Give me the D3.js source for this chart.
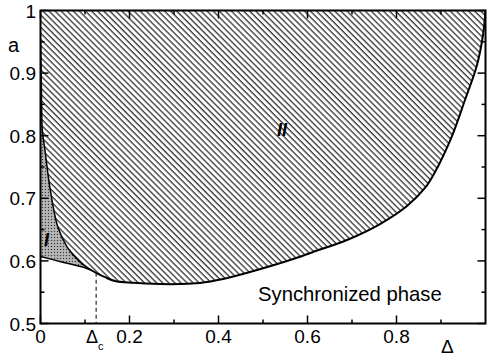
<!DOCTYPE html>
<html>
<head>
<meta charset="utf-8">
<script src="https://cdn.jsdelivr.net/npm/d3@7"></script>
<style>
  html, body { margin: 0; padding: 0; background: #fff; }
  text { font-family: "Liberation Sans", Arial, sans-serif; }
</style>
</head>
<body>
<div id="chart"></div>
<script>
// Phase boundaries, [delta, a]
const boundaryI_II = [[0, 0.955], [0.002, 0.88], [0.004, 0.81], [0.01, 0.777], [0.021, 0.718],
  [0.039, 0.654], [0.06, 0.622], [0.089, 0.598], [0.111, 0.587], [0.125, 0.581]];
const lowerII = [[0.125, 0.581], [0.145, 0.574], [0.167, 0.568], [0.208, 0.565], [0.269, 0.563],
  [0.313, 0.563], [0.358, 0.5647], [0.41, 0.5711], [0.4865, 0.5855], [0.561, 0.6014],
  [0.6124, 0.6142], [0.6888, 0.6334], [0.7629, 0.6589], [0.8236, 0.6877], [0.864, 0.7165],
  [0.8865, 0.742], [0.9247, 0.7995], [0.9539, 0.857], [0.9809, 0.9129], [0.9944, 0.9609], [1.0, 1.0]];
const lowerI = [[0, 0.607], [0.05, 0.598], [0.1, 0.589], [0.125, 0.581]];
const deltaC = 0.125;
const aC = 0.581;

const xMajor = [0, 0.2, 0.4, 0.6, 0.8];
const xMinor = [0.1, 0.3, 0.5, 0.7, 0.9];
const yMajor = [0.5, 0.6, 0.7, 0.8, 0.9, 1];
const yMinor = [0.55, 0.65, 0.75, 0.85, 0.95];

const width = 488, height = 360;
const x0 = 40.5, x1 = 485.5, y0 = 323.5, y1 = 10.5;

const svg = d3.select("#chart").append("svg")
  .attr("width", width).attr("height", height);

const x = d3.scaleLinear().domain([0, 1]).range([x0, x1]);
const y = d3.scaleLinear().domain([0.5, 1]).range([y0, y1]);

const defs = svg.append("defs");
const hatch = defs.append("pattern")
  .attr("id", "hatch")
  .attr("patternUnits", "userSpaceOnUse")
  .attr("width", 4.3).attr("height", 4.3)
  .attr("patternTransform", "rotate(-45)");
hatch.append("line")
  .attr("x1", 1).attr("y1", 0).attr("x2", 1).attr("y2", 4.3)
  .attr("stroke", "#000").attr("stroke-width", 1.05);

const stip = defs.append("pattern")
  .attr("id", "stip")
  .attr("patternUnits", "userSpaceOnUse")
  .attr("width", 3).attr("height", 3);
stip.append("rect").attr("width", 3).attr("height", 3).attr("fill", "#a9a9a9");
stip.append("rect").attr("x", 0).attr("y", 0).attr("width", 1).attr("height", 1).attr("fill", "#3a3a3a");
stip.append("rect").attr("x", 1.5).attr("y", 1.5).attr("width", 1).attr("height", 1).attr("fill", "#e0e0e0");

defs.append("clipPath").attr("id", "plotClip")
  .append("rect").attr("x", x0).attr("y", y1).attr("width", x1 - x0).attr("height", y0 - y1);

const line = d3.line()
  .x(d => x(d[0])).y(d => y(d[1]))
  .curve(d3.curveCatmullRom);

const plot = svg.append("g").attr("clip-path", "url(#plotClip)");

// Region II (hatched)
const regionII = boundaryI_II.concat(lowerII.slice(1));
plot.append("path")
  .attr("d", line(regionII) + "L" + x(1) + "," + y(1) + "L" + x(0) + "," + y(1) + "Z")
  .attr("fill", "url(#hatch)");

// Region I (stippled)
plot.append("path")
  .attr("d", line(boundaryI_II) + line(lowerI.slice().reverse()).replace("M", "L") + "Z")
  .attr("fill", "url(#stip)");

// Boundary curves
plot.append("path").attr("d", line(boundaryI_II))
  .attr("fill", "none").attr("stroke", "#000").attr("stroke-width", 1.5);
plot.append("path").attr("d", line(lowerII))
  .attr("fill", "none").attr("stroke", "#000").attr("stroke-width", 2);
plot.append("path").attr("d", line(lowerI))
  .attr("fill", "none").attr("stroke", "#000").attr("stroke-width", 1.5);

// Delta_c dashed marker
svg.append("line")
  .attr("x1", x(deltaC)).attr("x2", x(deltaC))
  .attr("y1", y(aC)).attr("y2", y(0.5))
  .attr("stroke", "#000").attr("stroke-width", 1)
  .attr("stroke-dasharray", "4,3");

// Frame
svg.append("rect")
  .attr("x", x0).attr("y", y1).attr("width", x1 - x0).attr("height", y0 - y1)
  .attr("fill", "none").attr("stroke", "#000").attr("stroke-width", 2);

// Ticks on all four sides, pointing inward
function ticks(vals, len) {
  vals.forEach(v => {
    svg.append("line").attr("x1", x(v)).attr("x2", x(v)).attr("y1", y0).attr("y2", y0 - len)
      .attr("stroke", "#000").attr("stroke-width", 1.5);
    svg.append("line").attr("x1", x(v)).attr("x2", x(v)).attr("y1", y1).attr("y2", y1 + len)
      .attr("stroke", "#000").attr("stroke-width", 1.5);
  });
}
function yticks(vals, len) {
  vals.forEach(v => {
    svg.append("line").attr("x1", x0).attr("x2", x0 + len).attr("y1", y(v)).attr("y2", y(v))
      .attr("stroke", "#000").attr("stroke-width", 1.5);
    svg.append("line").attr("x1", x1).attr("x2", x1 - len).attr("y1", y(v)).attr("y2", y(v))
      .attr("stroke", "#000").attr("stroke-width", 1.5);
  });
}
ticks(xMajor, 8);
ticks(xMinor, 4);
yticks(yMajor, 8);
yticks(yMinor, 4);

// Tick labels
svg.selectAll("text.xt").data(xMajor).enter().append("text")
  .attr("class", "xt")
  .attr("x", d => x(d)).attr("y", 342.5)
  .attr("text-anchor", "middle").attr("font-size", 19)
  .text(d => d === 0 ? "0" : d3.format(".1f")(d));

svg.selectAll("text.yt").data(yMajor).enter().append("text")
  .attr("class", "yt")
  .attr("x", 36).attr("y", d => y(d) + 7)
  .attr("text-anchor", "end").attr("font-size", 19)
  .text(d => d === 1 ? "1" : d3.format(".1f")(d));

// Axis names
svg.append("text").attr("x", 8).attr("y", 52).attr("font-size", 20).text("a");
svg.append("text").attr("x", 441).attr("y", 353).attr("font-size", 19).text("Δ");
const dc = svg.append("text").attr("x", 86).attr("y", 343).attr("font-size", 18);
dc.append("tspan").text("Δ");
dc.append("tspan").attr("dy", 7).attr("font-size", 11).text("c");

// Region labels
svg.append("text").attr("x", 44).attr("y", 246)
  .attr("font-family", "Liberation Serif, serif").attr("font-weight", "bold")
  .attr("font-style", "italic").attr("font-size", 18).text("I");
svg.append("text").attr("x", 277).attr("y", 136)
  .attr("font-family", "Liberation Serif, serif").attr("font-weight", "bold")
  .attr("font-style", "italic").attr("font-size", 18).text("II");

svg.append("text").attr("x", 258).attr("y", 301)
  .attr("font-size", 20.3).text("Synchronized phase");
</script>
</body>
</html>
